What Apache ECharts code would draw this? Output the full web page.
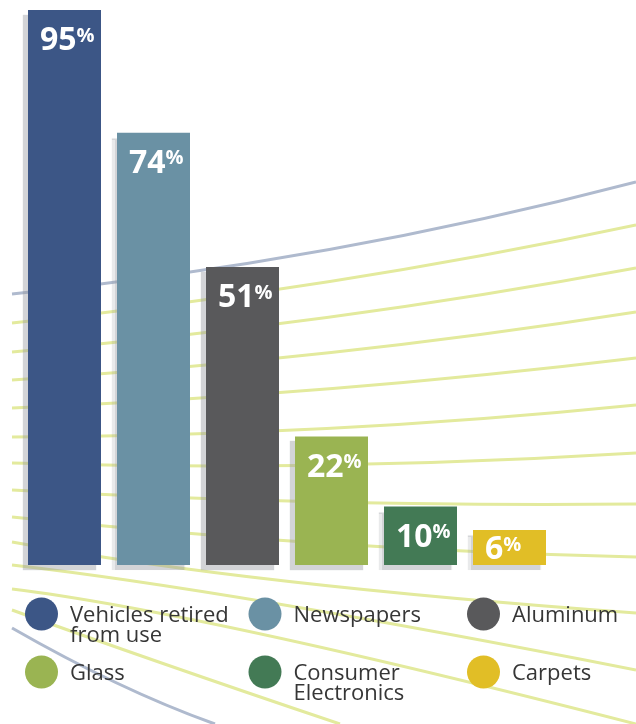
<!DOCTYPE html>
<html>
<head>
<meta charset="utf-8">
<style>
  html, body { margin: 0; padding: 0; background: #ffffff; }
  #chart { width: 636px; height: 724px; }
</style>
<script src="https://cdn.jsdelivr.net/npm/echarts@6/dist/echarts.min.js"></script>
</head>
<body>
<div id="chart"></div>
<script>
// Share of each material recovered for recycling
const categories = ['Vehicles retired from use', 'Newspapers', 'Aluminum', 'Glass', 'Consumer Electronics', 'Carpets'];
const legendLabels = ['Vehicles retired\nfrom use', 'Newspapers', 'Aluminum', 'Glass', 'Consumer\nElectronics', 'Carpets'];
const values = [95, 74, 51, 22, 10, 6];
const colors = ['#3c5686', '#6a91a4', '#59595b', '#9ab452', '#437a55', '#e1be26'];

// Decorative sweeping lines behind the bars: [x0, y0, cpx, cpy, x1, y1, colour]
const YEL = '#e3ea9d', BLU = '#afbace';
const sweeps = [
  [12, 294, 330, 262, 636, 182, BLU],
  [12, 323, 330, 290, 636, 225, YEL],
  [12, 352, 330, 325, 636, 268, YEL],
  [12, 380, 330, 360, 636, 312, YEL],
  [12, 408, 330, 395, 636, 358, YEL],
  [12, 437, 330, 436, 636, 405, YEL],
  [12, 463, 330, 472, 636, 453, YEL],
  [12, 490, 330, 507, 636, 504, YEL],
  [12, 517, 330, 550, 636, 557, YEL],
  [12, 542, 250, 585, 636, 613, YEL],
  [12, 565, 230, 590, 636, 670, YEL],
  [12, 589, 200, 612, 636, 724, YEL],
  [12, 610, 150, 660, 340, 724, YEL],
  [12, 628, 120, 690, 215, 724, BLU]
];

const graphics = sweeps.map(s => ({
  type: 'bezierCurve',
  z: 0,
  silent: true,
  shape: { x1: s[0], y1: s[1], cpx1: s[2], cpy1: s[3], x2: s[4], y2: s[5] },
  style: { stroke: s[6], lineWidth: 3, fill: null }
}));

// Key: three columns, two rows, dot followed by name
const keyCols = [41.5, 265, 483.5];
const keyRows = [614, 672];
legendLabels.forEach((label, i) => {
  const cx = keyCols[i % 3], cy = keyRows[Math.floor(i / 3)];
  graphics.push({
    type: 'circle', z: 5, silent: true,
    shape: { cx: cx, cy: cy, r: 16.5 },
    style: { fill: colors[i] }
  });
  graphics.push({
    type: 'text', z: 5, silent: true,
    style: {
      text: label, x: cx + 28.5, y: cy - 8,
      font: '22px "Open Sans"', fill: '#363636',
      verticalAlign: 'top', lineHeight: 20
    }
  });
});

const chart = echarts.init(document.getElementById('chart'), null, { renderer: 'canvas' });
chart.setOption({
  animation: false,
  backgroundColor: '#ffffff',
  grid: { left: 20, right: 82, top: 10, bottom: 159, containLabel: false },
  xAxis: { type: 'category', data: categories, show: false },
  yAxis: { type: 'value', min: 0, max: 95, show: false },
  graphic: graphics,
  series: [{
    type: 'bar',
    z: 2,
    barWidth: 73,
    data: values.map((v, i) => ({
      value: v,
      itemStyle: { color: colors[i] },
      // very short bars: tuck the label up so it stays inside the bar
      label: v < 8 ? { offset: [2, -6] } : undefined
    })),
    itemStyle: {
      shadowColor: 'rgba(150,152,160,0.42)',
      shadowBlur: 1,
      shadowOffsetX: -5,
      shadowOffsetY: 5
    },
    label: {
      show: true,
      position: 'insideTopLeft',
      distance: 10,
      offset: [2, 5],
      formatter: '{n|{c}}{p|%}',
      rich: {
        n: { color: '#ffffff', fontFamily: 'Open Sans', fontWeight: 'bold', fontSize: 32, lineHeight: 32 },
        p: { color: '#ffffff', fontFamily: 'Open Sans', fontWeight: 'bold', fontSize: 20, lineHeight: 20, verticalAlign: 'top', padding: [1, 0, 0, 0] }
      }
    }
  }]
});
</script>
</body>
</html>
